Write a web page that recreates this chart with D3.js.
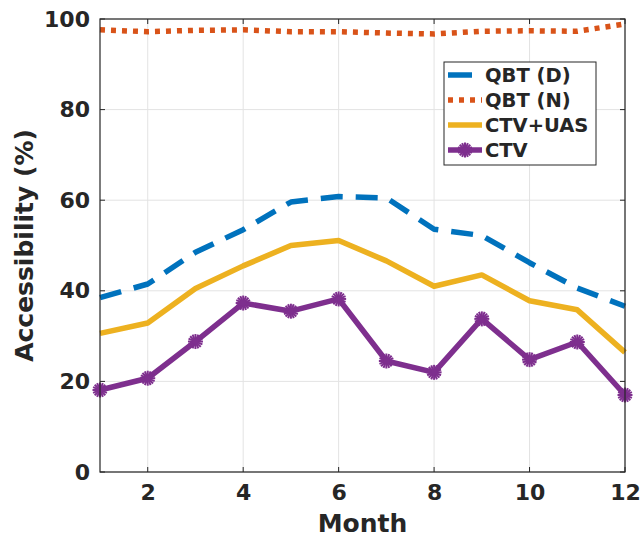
<!DOCTYPE html>
<html>
<head>
<meta charset="utf-8">
<script src="https://cdn.jsdelivr.net/npm/d3@7"></script>
<style>
  body { margin: 0; background: #fff; }
  text { font-family: 'DejaVu Sans', sans-serif; font-weight: bold; fill: #262626; }
</style>
</head>
<body>
<div id="chart"></div>
<script>
// Monthly accessibility (%) per scheme
const months = [1, 2, 3, 4, 5, 6, 7, 8, 9, 10, 11, 12];
const qbtD = [38.5, 41.5, 48.5, 53.5, 59.6, 60.8, 60.5, 53.6, 52.2, 46.2, 40.6, 36.6];
const qbtN = [97.6, 97.2, 97.5, 97.6, 97.2, 97.2, 96.9, 96.7, 97.3, 97.4, 97.3, 98.9];
const ctvUas = [30.6, 32.9, 40.5, 45.5, 50.0, 51.1, 46.6, 41.0, 43.5, 37.8, 35.8, 26.4];
const ctv = [18.1, 20.7, 28.8, 37.3, 35.5, 38.2, 24.5, 22.0, 33.8, 24.8, 28.7, 17.0];
const xTicks = [2, 4, 6, 8, 10, 12];
const yTicks = [0, 20, 40, 60, 80, 100];

const series = [
  { name: 'QBT (D)', values: qbtD, color: '#0072BD', dash: '22,13', marker: false },
  { name: 'QBT (N)', values: qbtN, color: '#D95319', dash: '5,6', marker: false },
  { name: 'CTV+UAS', values: ctvUas, color: '#EDB120', dash: null, marker: false },
  { name: 'CTV', values: ctv, color: '#7E2F8E', dash: null, marker: true }
];

const svgWidth = 642, svgHeight = 539;
const margin = { top: 19, right: 17, bottom: 67, left: 100 };
const width = svgWidth - margin.left - margin.right;
const height = svgHeight - margin.top - margin.bottom;

const svg = d3.select('#chart').append('svg')
  .attr('width', svgWidth)
  .attr('height', svgHeight);

const g = svg.append('g')
  .attr('transform', `translate(${margin.left}, ${margin.top})`);

const x = d3.scaleLinear().domain([1, 12]).range([0, width]);
const y = d3.scaleLinear().domain([0, 100]).range([height, 0]);

// grid
g.append('g').selectAll('line').data(xTicks).enter().append('line')
  .attr('x1', d => x(d)).attr('x2', d => x(d))
  .attr('y1', 0).attr('y2', height)
  .attr('stroke', '#e3e3e3').attr('stroke-width', 1);
g.append('g').selectAll('line').data(yTicks).enter().append('line')
  .attr('x1', 0).attr('x2', width)
  .attr('y1', d => y(d)).attr('y2', d => y(d))
  .attr('stroke', '#e3e3e3').attr('stroke-width', 1);

// lines
const line = d3.line().x((d, i) => x(months[i])).y(d => y(d));

series.forEach(s => {
  g.append('path')
    .datum(s.values)
    .attr('d', line)
    .attr('fill', 'none')
    .attr('stroke', s.color)
    .attr('stroke-width', 5.5)
    .attr('stroke-linejoin', 'round')
    .attr('stroke-dasharray', s.dash);
});

// asterisk markers
function star(sel, cx, cy, r, color) {
  const gg = sel.append('g').attr('transform', `translate(${cx},${cy})`);
  for (let k = 0; k < 8; k++) {
    const a = k * Math.PI / 8;
    gg.append('line')
      .attr('x1', -r * Math.cos(a)).attr('y1', -r * Math.sin(a))
      .attr('x2', r * Math.cos(a)).attr('y2', r * Math.sin(a))
      .attr('stroke', color).attr('stroke-width', 2);
  }
  gg.append('circle').attr('r', r * 0.4).attr('fill', color);
}
ctv.forEach((v, i) => star(g, x(months[i]), y(v), 7.5, '#7E2F8E'));

// axes box
const xAxis = d3.axisBottom(x).tickValues(xTicks).tickSize(0).tickPadding(12);
const yAxis = d3.axisLeft(y).tickValues(yTicks).tickSize(0).tickPadding(10);

g.append('g').attr('transform', `translate(0, ${height})`).call(xAxis)
  .call(a => a.select('.domain').remove())
  .selectAll('text').attr('font-size', '22px').attr('fill', '#262626');
g.append('g').call(yAxis)
  .call(a => a.select('.domain').remove())
  .selectAll('text').attr('font-size', '22px').attr('fill', '#262626');

// inward ticks on all four sides
xTicks.forEach(t => {
  g.append('line').attr('x1', x(t)).attr('x2', x(t)).attr('y1', height).attr('y2', height - 5).attr('stroke', '#262626');
  g.append('line').attr('x1', x(t)).attr('x2', x(t)).attr('y1', 0).attr('y2', 5).attr('stroke', '#262626');
});
yTicks.forEach(t => {
  g.append('line').attr('x1', 0).attr('x2', 5).attr('y1', y(t)).attr('y2', y(t)).attr('stroke', '#262626');
  g.append('line').attr('x1', width).attr('x2', width - 5).attr('y1', y(t)).attr('y2', y(t)).attr('stroke', '#262626');
});
g.append('rect')
  .attr('width', width).attr('height', height)
  .attr('fill', 'none').attr('stroke', '#262626').attr('stroke-width', 1.2);

// axis labels
g.append('text')
  .attr('transform', `translate(${-67}, ${height / 2}) rotate(-90)`)
  .attr('text-anchor', 'middle')
  .attr('font-size', '25px')
  .text('Accessibility (%)');

g.append('text')
  .attr('x', width / 2).attr('y', height + 60)
  .attr('text-anchor', 'middle')
  .attr('font-size', '25px')
  .text('Month');

// legend
const legend = svg.append('g').attr('transform', 'translate(444, 62)');
legend.append('rect')
  .attr('width', 152).attr('height', 103)
  .attr('fill', '#fff').attr('stroke', '#262626').attr('stroke-width', 1);

series.forEach((s, i) => {
  const ly = 13 + i * 25;
  legend.append('line')
    .attr('x1', 4).attr('x2', s.dash === '22,13' ? 28 : 38)
    .attr('y1', ly).attr('y2', ly)
    .attr('stroke', s.color).attr('stroke-width', 5.5)
    .attr('stroke-dasharray', s.dash === '5,6' ? s.dash : null);
  if (s.marker) star(legend, 21, ly, 7.5, s.color);
  legend.append('text')
    .attr('x', 41)
    .attr('y', ly)
    .attr('dy', '0.36em')
    .attr('font-size', '19.5px')
    .text(s.name);
});
</script>
</body>
</html>
